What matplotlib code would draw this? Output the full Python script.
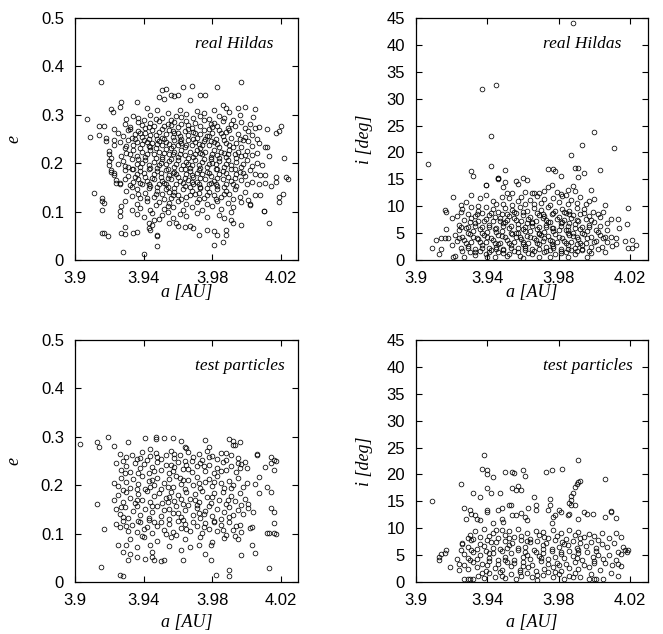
import matplotlib
matplotlib.use("Agg")
import matplotlib.pyplot as plt
from matplotlib.ticker import FixedLocator, FixedFormatter

# ---------------- data ----------------
# real Hildas: (a [AU], e)
hildas_a_e = [
    (3.907,.292),(3.909,.255),(3.915,.367),(3.914,.259),(3.911,.139),(3.914,.276),(3.917,.276),(3.918,.252),
    (3.916,.128),(3.916,.121),(3.916,.103),(3.916,.055),(3.917,.055),(3.919,.050),(3.921,.312),(3.922,.306),
    (3.927,.326),(3.926,.316),(3.920,.220),(3.921,.210),(3.920,.205),(3.920,.197),(3.921,.186),(3.923,.179),
    (3.923,.271),(3.923,.248),(3.924,.160),(3.926,.160),(3.926,.102),(3.927,.055),(3.929,.053),(3.928,.017),
    (3.929,.068),(3.934,.055),(3.936,.057),(3.936,.326),(3.942,.315),(3.940,.012),(3.948,.028),(3.948,.050),
    (3.948,.052),(3.943,.077),(3.943,.067),(3.944,.062),(3.945,.072),(3.946,.082),(3.951,.352),(3.953,.353),
    (3.949,.336),(3.952,.333),(3.956,.341),(3.958,.338),(3.960,.340),(3.963,.357),(3.968,.360),(3.967,.331),
    (3.973,.341),(3.976,.341),(3.983,.357),(3.997,.368),(3.986,.321),(3.988,.314),(3.995,.314),(3.999,.316),
    (4.005,.312),(4.005,.272),(4.012,.270),(4.019,.266),(4.020,.276),(4.017,.262),(4.022,.210),(4.023,.172),
    (4.024,.168),(4.017,.172),(4.017,.162),(4.014,.152),(4.021,.136),(4.019,.131),(4.019,.119),(4.013,.077),
    (4.010,.101),(4.008,.134),(4.002,.116),(4.002,.113),(3.997,.072),(3.992,.076),(3.991,.083),(3.988,.062),
    (3.988,.052),(3.986,.037),(3.981,.030),(3.983,.052),(3.981,.059),(3.977,.062),(3.972,.052),(3.969,.066),
    (3.967,.070),(3.964,.068),(3.959,.076),(3.960,.070),(3.955,.077),
    (3.934,.297),(3.937,.294),(3.940,.290),(3.944,.300),(3.947,.292),(3.948,.310),(3.951,.293),(3.954,.304),
    (3.956,.290),(3.959,.298),(3.961,.310),(3.962,.295),(3.965,.302),(3.969,.293),(3.971,.308),(3.973,.297),
    (3.975,.303),(3.978,.292),(3.981,.310),(3.984,.298),(3.987,.293),(3.990,.305),(3.992,.290),(3.996,.300),
    (4.004,.295),(3.930,.292),
    (3.929,.282),(3.932,.275),(3.937,.285),(3.939,.278),(3.941,.272),(3.944,.283),(3.946,.276),(3.949,.288),
    (3.951,.271),(3.954,.280),(3.958,.285),(3.960,.274),(3.962,.281),(3.965,.288),(3.968,.272),(3.970,.283),
    (3.973,.277),(3.975,.289),(3.978,.271),(3.981,.284),(3.983,.276),(3.986,.287),(3.989,.273),(3.991,.282),
    (3.993,.277),(3.997,.285),(3.999,.272),(4.002,.280),(4.007,.275),(3.956,.278),(3.966,.279),(3.979,.280),
    (3.925,.262),(3.928,.256),(3.931,.268),(3.933,.252),(3.935,.260),(3.937,.266),(3.939,.255),(3.941,.262),
    (3.943,.251),(3.945,.268),(3.947,.258),(3.949,.264),(3.951,.253),(3.953,.261),(3.955,.269),(3.957,.255),
    (3.960,.263),(3.962,.251),(3.964,.267),(3.966,.258),(3.969,.264),(3.971,.252),(3.973,.260),(3.975,.268),
    (3.977,.256),(3.980,.263),(3.982,.251),(3.984,.268),(3.986,.257),(3.988,.264),(3.991,.253),(3.995,.261),
    (3.999,.255),(4.001,.266),(4.003,.258),(4.006,.251),(3.944,.258),(3.958,.262),(3.978,.257),
    (3.918,.245),(3.923,.238),(3.926,.244),(3.929,.232),(3.931,.247),(3.934,.238),(3.936,.243),(3.938,.231),
    (3.940,.248),(3.943,.236),(3.945,.242),(3.947,.232),(3.949,.246),(3.951,.238),(3.953,.243),(3.956,.231),
    (3.958,.247),(3.960,.237),(3.962,.242),(3.964,.233),(3.966,.248),(3.968,.238),(3.970,.244),(3.973,.232),
    (3.975,.246),(3.978,.237),(3.981,.243),(3.984,.233),(3.987,.247),(3.990,.238),(3.994,.242),(3.997,.234),
    (4.001,.245),(4.003,.236),(4.007,.241),(4.011,.233),(4.012,.233),(3.955,.240),(3.972,.240),(3.942,.244),
    (3.920,.225),(3.927,.214),(3.930,.222),(3.934,.228),(3.936,.215),(3.939,.223),(3.941,.212),(3.944,.227),
    (3.946,.218),(3.949,.224),(3.951,.213),(3.953,.229),(3.955,.218),(3.958,.224),(3.960,.212),(3.962,.227),
    (3.964,.217),(3.967,.223),(3.969,.213),(3.971,.228),(3.974,.218),(3.976,.224),(3.979,.212),(3.981,.227),
    (3.983,.217),(3.985,.223),(3.988,.213),(3.990,.228),(3.993,.218),(3.995,.224),(3.997,.214),(4.000,.226),
    (4.003,.217),(4.006,.221),(4.013,.215),(3.957,.219),(3.973,.221),(3.987,.222),
    (3.925,.198),(3.928,.205),(3.931,.192),(3.933,.208),(3.936,.199),(3.938,.193),(3.941,.206),(3.943,.196),
    (3.946,.202),(3.948,.191),(3.951,.208),(3.953,.198),(3.955,.204),(3.958,.192),(3.960,.207),(3.963,.197),
    (3.965,.203),(3.967,.191),(3.970,.206),(3.972,.196),(3.974,.202),(3.977,.193),(3.979,.208),(3.982,.198),
    (3.984,.204),(3.987,.192),(3.989,.207),(3.991,.197),(3.994,.203),(3.997,.193),(4.000,.206),(4.003,.195),
    (4.006,.201),(4.009,.197),(3.950,.200),(3.966,.199),(3.980,.201),
    (3.921,.181),(3.923,.176),(3.929,.185),(3.931,.173),(3.933,.188),(3.936,.178),(3.938,.184),(3.941,.172),
    (3.943,.187),(3.946,.177),(3.948,.183),(3.950,.171),(3.953,.186),(3.955,.176),(3.958,.182),(3.960,.172),
    (3.962,.188),(3.965,.177),(3.967,.183),(3.969,.171),(3.972,.186),(3.974,.177),(3.977,.182),(3.979,.173),
    (3.982,.188),(3.984,.178),(3.986,.183),(3.989,.172),(3.991,.187),(3.994,.177),(3.996,.182),(3.999,.173),
    (4.002,.186),(4.005,.178),(4.008,.176),(4.011,.175),(3.957,.179),(3.971,.180),
    (3.924,.165),(3.926,.158),(3.929,.167),(3.932,.154),(3.934,.162),(3.937,.168),(3.939,.156),(3.942,.164),
    (3.944,.152),(3.946,.167),(3.949,.158),(3.951,.163),(3.954,.151),(3.956,.168),(3.959,.157),(3.961,.164),
    (3.964,.153),(3.966,.166),(3.969,.158),(3.971,.162),(3.973,.151),(3.976,.167),(3.978,.157),(3.981,.164),
    (3.983,.152),(3.986,.168),(3.988,.158),(3.991,.163),(3.994,.153),(3.997,.166),(4.000,.156),(4.003,.162),
    (4.007,.158),(4.011,.160),(3.952,.160),(3.968,.161),(3.979,.159),
    (3.930,.142),(3.933,.133),(3.936,.146),(3.938,.129),(3.941,.139),(3.943,.148),(3.946,.131),(3.948,.142),
    (3.951,.136),(3.953,.147),(3.956,.128),(3.958,.141),(3.960,.134),(3.963,.146),(3.965,.130),(3.968,.142),
    (3.970,.137),(3.973,.148),(3.975,.129),(3.978,.140),(3.981,.135),(3.983,.146),(3.985,.131),(3.988,.143),
    (3.990,.137),(3.993,.147),(3.996,.131),(3.999,.140),(4.005,.135),(3.955,.140),(3.972,.139),
    (3.917,.118),(3.927,.111),(3.929,.121),(3.933,.104),(3.936,.116),(3.938,.108),(3.942,.122),(3.944,.103),
    (3.947,.114),(3.949,.119),(3.952,.106),(3.955,.117),(3.957,.110),(3.960,.122),(3.963,.104),(3.965,.115),
    (3.968,.109),(3.971,.120),(3.974,.103),(3.977,.116),(3.980,.111),(3.983,.121),(3.985,.105),(3.989,.117),
    (3.992,.110),(3.997,.120),(4.001,.124),(3.954,.112),
    (3.926,.090),(3.936,.096),(3.940,.088),(3.945,.097),(3.949,.085),(3.951,.093),(3.954,.099),(3.957,.087),
    (3.961,.095),(3.965,.091),(3.971,.098),(3.977,.088),(3.984,.094),(3.987,.086),(3.991,.099),(4.010,.101),
    (3.932,.270),(3.938,.262),(3.943,.274),(3.948,.250),(3.952,.277),(3.957,.266),(3.961,.256),(3.966,.271),
    (3.970,.262),(3.976,.251),(3.980,.274),(3.985,.262),(3.990,.268),(3.996,.249),
    (3.930,.236),(3.935,.249),(3.939,.240),(3.944,.233),(3.948,.240),(3.952,.250),(3.957,.235),(3.961,.245),
    (3.965,.238),(3.969,.249),(3.974,.237),(3.979,.246),(3.983,.239),(3.988,.242),(3.992,.233),(3.998,.247),
    (3.932,.218),(3.937,.209),(3.942,.220),(3.947,.211),(3.952,.221),(3.956,.209),(3.961,.218),(3.966,.210),
    (3.970,.220),(3.975,.209),(3.980,.219),(3.984,.210),(3.989,.219),(3.994,.210),(3.999,.217),
    (3.929,.195),(3.934,.187),(3.939,.200),(3.944,.190),(3.949,.196),(3.954,.189),(3.959,.199),(3.964,.188),
    (3.968,.197),(3.973,.190),(3.978,.199),(3.983,.189),(3.988,.199),(3.993,.188),(3.998,.199),
    (3.935,.171),(3.940,.180),(3.945,.170),(3.950,.179),(3.954,.169),(3.959,.178),(3.964,.169),(3.968,.176),
    (3.973,.169),(3.978,.179),(3.983,.170),(3.988,.179),(3.993,.169),(3.998,.179),
    (3.933,.150),(3.938,.160),(3.943,.157),(3.948,.150),(3.953,.156),(3.958,.149),(3.963,.160),(3.967,.150),
    (3.972,.157),(3.977,.149),(3.982,.158),(3.987,.150),(3.992,.157),
    (3.937,.137),(3.942,.128),(3.947,.137),(3.952,.126),(3.957,.135),(3.962,.126),(3.967,.135),(3.972,.126),
    (3.977,.134),(3.982,.126),(3.987,.136),(3.992,.127),
]

# real Hildas: (a [AU], i [deg])
hildas_a_i = [
    (3.988,44.1),(3.937,31.8),(3.945,32.6),(3.942,23.0),(4.000,23.8),(3.907,17.8),(3.993,21.3),(3.987,19.6),
    (4.011,20.8),(4.003,16.8),(3.942,17.5),(3.931,16.6),(3.932,15.7),(3.950,16.8),(3.974,17.0),(3.977,16.9),
    (3.978,16.6),(3.989,17.1),(3.991,17.1),(3.994,16.1),(3.991,15.5),(3.981,15.6),(3.921,11.8),(3.931,12.1),
    (3.939,13.9),(3.946,15.3),(3.946,15.0),(3.962,14.9),(4.019,9.7),(4.018,6.7),(4.013,7.6),(4.014,5.9),
    (4.009,7.6),(4.005,8.9),(4.000,11.3),(3.998,13.0),(4.021,3.8),(4.023,2.8),(4.017,3.6),(4.019,2.2),
    (4.021,2.2),(3.909,2.2),(3.911,3.7),(3.913,1.1),(3.914,2.0),(3.914,4.0),(3.916,4.0),(3.918,4.0),
    (3.916,9.3),(3.917,9.0),(3.917,5.7),(3.921,0.5),(3.922,0.7),(3.927,0.5),
    (3.939,13.9),(3.946,15.3),(3.949,13.5),(3.950,14.5),(3.951,12.5),(3.954,12.5),(3.956,14.6),(3.957,14.2),
    (3.960,15.2),(3.961,12.7),(3.965,12.5),(3.966,12.4),(3.969,12.5),(3.972,12.9),(3.974,13.6),(3.976,14.0),
    (3.979,12.6),(3.981,12.3),(3.984,12.0),(3.985,13.1),(3.988,13.7),(3.989,12.8),
    (3.925,10.2),(3.928,10.7),(3.935,10.0),(3.936,11.5),(3.939,12.0),(3.943,11.0),(3.945,10.5),(3.948,11.8),
    (3.949,10.5),(3.952,11.5),(3.954,10.2),(3.957,11.0),(3.959,11.8),(3.961,10.5),(3.964,11.2),(3.966,10.4),
    (3.968,11.9),(3.970,10.6),(3.972,11.4),(3.975,10.3),(3.977,11.6),(3.980,10.8),(3.982,11.9),(3.985,10.4),
    (3.987,11.2),(3.990,10.6),(3.992,11.7),(3.995,10.5),(3.997,11.0),(4.006,10.2),
    (3.923,8.2),(3.926,9.4),(3.929,8.5),(3.931,9.8),(3.933,8.1),(3.935,9.2),(3.937,8.7),(3.939,9.9),
    (3.941,8.3),(3.943,9.5),(3.944,8.0),(3.946,9.0),(3.948,8.6),(3.950,9.7),(3.952,8.2),(3.954,9.3),
    (3.956,8.8),(3.958,9.9),(3.960,8.4),(3.962,9.1),(3.964,8.0),(3.966,9.6),(3.968,8.7),(3.970,9.3),
    (3.972,8.2),(3.974,9.8),(3.976,8.5),(3.978,9.2),(3.980,8.0),(3.982,9.5),(3.984,8.8),(3.986,9.1),
    (3.988,8.3),(3.990,9.7),(3.992,8.6),(3.994,9.4),(3.997,8.1),(3.999,9.0),(4.002,8.5),(3.955,9.0),
    (3.971,8.6),(3.983,9.0),
    (3.920,7.8),(3.924,6.5),(3.927,7.5),(3.929,6.2),(3.931,7.9),(3.933,6.8),(3.935,7.3),(3.937,6.1),
    (3.939,7.7),(3.941,6.6),(3.943,7.2),(3.945,6.0),(3.947,7.8),(3.949,6.9),(3.951,7.4),(3.953,6.3),
    (3.955,7.9),(3.957,6.7),(3.959,7.2),(3.961,6.1),(3.963,7.6),(3.965,6.8),(3.967,7.3),(3.969,6.2),
    (3.971,7.8),(3.973,6.6),(3.975,7.1),(3.977,6.0),(3.979,7.7),(3.981,6.9),(3.983,7.4),(3.985,6.4),
    (3.987,7.9),(3.989,6.7),(3.991,7.2),(3.993,6.1),(3.995,7.6),(3.997,6.5),(4.000,7.0),(4.003,6.3),
    (4.007,6.8),(3.950,7.0),(3.962,6.9),(3.974,7.0),(3.986,6.8),
    (3.922,4.6),(3.924,5.5),(3.926,4.2),(3.928,5.9),(3.930,4.8),(3.932,5.3),(3.934,4.1),(3.936,5.7),
    (3.938,4.6),(3.940,5.2),(3.942,4.0),(3.944,5.8),(3.946,4.7),(3.948,5.4),(3.950,4.3),(3.952,5.9),
    (3.954,4.9),(3.956,5.1),(3.958,4.2),(3.960,5.7),(3.962,4.5),(3.964,5.3),(3.966,4.0),(3.968,5.8),
    (3.970,4.7),(3.972,5.2),(3.974,4.4),(3.976,5.9),(3.978,4.8),(3.980,5.5),(3.982,4.1),(3.984,5.6),
    (3.986,4.6),(3.988,5.1),(3.990,4.3),(3.992,5.8),(3.994,4.9),(3.996,5.3),(3.998,4.2),(4.001,5.6),
    (4.003,4.6),(4.006,4.2),(4.009,4.3),(4.012,4.1),(3.957,5.0),(3.969,4.9),(3.985,5.0),
    (3.920,2.8),(3.923,3.5),(3.925,2.3),(3.927,3.8),(3.929,2.6),(3.931,3.3),(3.933,2.1),(3.935,3.9),
    (3.937,2.8),(3.939,3.4),(3.941,2.2),(3.943,3.7),(3.945,2.5),(3.947,3.2),(3.949,2.0),(3.951,3.8),
    (3.953,2.7),(3.955,3.4),(3.957,2.3),(3.959,3.9),(3.961,2.6),(3.963,3.1),(3.965,2.1),(3.967,3.7),
    (3.969,2.9),(3.971,3.5),(3.973,2.4),(3.975,3.8),(3.977,2.6),(3.979,3.3),(3.981,2.0),(3.983,3.6),
    (3.985,2.8),(3.987,3.4),(3.989,2.2),(3.991,3.9),(3.993,2.7),(3.995,3.2),(3.998,2.4),(4.001,3.6),
    (4.004,2.5),(4.007,3.3),(4.010,2.6),(3.946,3.0),(3.960,3.0),(3.976,3.0),(3.990,3.0),
    (3.930,1.5),(3.933,0.9),(3.936,1.7),(3.939,1.2),(3.942,1.9),(3.944,0.6),(3.946,1.4),(3.949,1.8),
    (3.952,1.1),(3.955,1.6),(3.958,0.8),(3.961,1.9),(3.963,1.3),(3.966,1.7),(3.969,0.5),(3.972,1.5),
    (3.975,1.9),(3.978,1.2),(3.981,1.7),(3.984,1.4),(3.987,1.9),(3.990,1.6),(3.993,1.8),(3.998,1.3),
    (4.006,1.5),
    (3.925,8.9),(3.930,7.0),(3.934,8.5),(3.938,7.2),(3.942,8.8),(3.947,7.3),(3.951,8.6),(3.956,7.4),
    (3.960,8.9),(3.965,7.1),(3.969,8.4),(3.973,7.5),(3.977,8.8),(3.982,7.0),(3.986,8.5),(3.990,7.5),
    (3.994,8.8),(3.998,7.4),(4.003,8.0),
    (3.925,6.2),(3.929,5.1),(3.933,6.4),(3.937,5.0),(3.941,6.2),(3.945,5.2),(3.949,6.4),(3.953,5.0),
    (3.957,6.0),(3.961,5.3),(3.965,6.3),(3.969,5.1),(3.973,6.1),(3.977,5.3),(3.981,6.3),(3.985,5.6),
    (3.989,6.0),(3.993,5.1),(3.997,6.1),(4.002,5.2),(4.007,5.5),
    (3.924,4.0),(3.928,3.1),(3.932,4.3),(3.936,3.3),(3.940,4.2),(3.944,3.2),(3.948,4.4),(3.952,3.2),
    (3.956,4.2),(3.960,3.4),(3.964,4.3),(3.968,3.2),(3.972,4.1),(3.976,3.5),(3.980,4.2),(3.984,3.1),
    (3.988,4.4),(3.992,3.2),(3.996,4.1),(4.000,3.3),(4.005,4.0),(4.012,3.0),
    (3.926,1.7),(3.929,2.2),(3.933,1.5),(3.937,2.3),(3.941,1.4),(3.945,2.1),(3.949,1.3),(3.953,2.2),
    (3.957,1.5),(3.961,2.3),(3.965,1.2),(3.969,2.0),(3.973,1.6),(3.977,2.2),(3.981,1.3),(3.985,2.0),
    (3.989,1.2),(3.993,2.1),(3.997,1.6),(4.002,2.0),
    (3.940,0.5),(3.951,0.7),(3.960,0.4),(3.975,0.6),(3.985,0.5),(3.996,0.6),
]

# test particles: (a [AU], e)
particles_a_e = [
    (3.903,.286),(3.913,.290),(3.914,.279),(3.919,.300),(3.923,.282),(3.913,.161),(3.917,.109),(3.915,.032),
    (3.926,.014),(3.928,.012),(3.925,.077),(3.930,.077),(3.928,.062),(3.931,.046),(3.932,.057),(3.936,.072),
    (3.936,.052),(3.941,.048),(3.944,.076),(3.945,.062),(3.945,.052),(3.946,.045),(3.950,.043),(3.952,.045),
    (3.955,.074),(3.962,.066),(3.963,.046),(3.967,.072),(3.972,.076),(3.976,.057),(3.979,.046),(3.979,.076),
    (3.982,.014),(3.990,.024),(3.990,.012),(3.995,.088),(3.997,.055),(4.003,.076),(4.005,.059),(4.002,.112),
    (4.013,.028),(4.012,.102),(4.013,.102),(4.016,.102),(4.017,.099),(4.016,.121),(4.016,.145),(4.014,.153),
    (4.014,.186),(4.012,.197),(4.016,.231),(4.016,.252),(4.017,.250),(4.014,.259),(4.014,.245),(4.006,.265),
    (4.006,.262),(4.011,.238),(4.007,.217),(4.005,.202),(4.007,.183),(4.004,.145),(4.003,.114),
    (3.941,.298),(3.947,.300),(3.947,.295),(3.952,.298),(3.957,.297),(3.962,.291),(3.964,.279),(3.976,.293),
    (3.978,.279),(3.990,.295),(3.992,.291),(3.993,.283),(3.996,.290),(3.992,.283),(3.931,.290),
    (3.926,.265),(3.930,.258),(3.933,.262),(3.936,.255),(3.939,.268),(3.942,.252),(3.944,.260),(3.947,.267),
    (3.950,.254),(3.953,.262),(3.956,.270),(3.958,.256),(3.961,.263),(3.964,.251),(3.966,.268),(3.969,.258),
    (3.972,.265),(3.974,.253),(3.977,.270),(3.980,.260),(3.983,.255),(3.985,.267),(3.988,.252),(3.991,.262),
    (3.995,.256),(3.999,.248),(3.944,.275),(3.965,.276),
    (3.924,.245),(3.927,.232),(3.930,.240),(3.932,.228),(3.935,.246),(3.938,.236),(3.940,.243),(3.943,.226),
    (3.945,.238),(3.948,.247),(3.950,.231),(3.953,.241),(3.955,.225),(3.958,.237),(3.960,.248),(3.963,.233),
    (3.965,.242),(3.968,.227),(3.971,.239),(3.973,.246),(3.976,.230),(3.978,.241),(3.981,.225),(3.983,.236),
    (3.986,.247),(3.988,.232),(3.991,.240),(3.994,.228),(3.997,.244),(4.000,.235),(3.957,.229),
    (3.923,.205),(3.925,.198),(3.927,.215),(3.930,.207),(3.932,.195),(3.934,.212),(3.937,.203),(3.939,.218),
    (3.941,.193),(3.943,.208),(3.946,.200),(3.948,.215),(3.950,.192),(3.952,.205),(3.955,.212),(3.957,.197),
    (3.959,.218),(3.962,.203),(3.964,.193),(3.966,.210),(3.969,.200),(3.971,.216),(3.973,.195),(3.976,.207),
    (3.978,.213),(3.980,.198),(3.983,.219),(3.985,.204),(3.987,.194),(3.990,.209),(3.992,.201),(3.995,.215),
    (3.998,.196),(4.000,.205),(3.944,.197),(3.961,.214),
    (3.923,.170),(3.925,.180),(3.928,.165),(3.930,.186),(3.932,.174),(3.935,.163),(3.937,.182),(3.939,.170),
    (3.942,.188),(3.944,.166),(3.946,.177),(3.949,.184),(3.951,.163),(3.953,.174),(3.956,.186),(3.958,.168),
    (3.960,.179),(3.963,.162),(3.965,.185),(3.967,.172),(3.970,.181),(3.972,.166),(3.974,.188),(3.977,.175),
    (3.979,.164),(3.981,.183),(3.984,.170),(3.986,.186),(3.988,.162),(3.991,.177),(3.993,.168),(3.996,.184),
    (3.999,.172),(4.001,.162),(3.955,.175),(3.970,.170),
    (3.924,.150),(3.926,.140),(3.929,.155),(3.931,.133),(3.934,.147),(3.936,.158),(3.938,.138),(3.941,.151),
    (3.943,.132),(3.945,.145),(3.948,.157),(3.950,.137),(3.952,.149),(3.955,.131),(3.957,.143),(3.959,.156),
    (3.962,.135),(3.964,.148),(3.966,.159),(3.969,.139),(3.971,.152),(3.973,.133),(3.976,.146),(3.978,.157),
    (3.980,.136),(3.983,.150),(3.985,.131),(3.987,.144),(3.990,.155),(3.992,.138),(3.995,.149),(3.998,.141),
    (4.001,.153),(3.960,.142),(3.975,.140),
    (3.924,.120),(3.926,.113),(3.928,.126),(3.931,.106),(3.933,.118),(3.936,.104),(3.938,.123),(3.940,.110),
    (3.943,.128),(3.945,.102),(3.948,.116),(3.950,.124),(3.952,.108),(3.955,.119),(3.957,.103),(3.960,.127),
    (3.962,.112),(3.964,.120),(3.967,.106),(3.969,.124),(3.971,.115),(3.974,.102),(3.976,.121),(3.978,.110),
    (3.981,.127),(3.983,.105),(3.985,.117),(3.988,.098),(3.990,.123),(3.992,.107),(3.994,.115),(3.997,.104),
    (3.959,.098),(3.940,.093),
    (3.932,.089),(3.939,.095),(3.948,.085),(3.956,.092),(3.964,.088),(3.973,.094),(3.980,.083),(3.987,.090),
    (3.993,.095),
    (3.928,.250),(3.938,.257),(3.948,.258),(3.958,.265),(3.968,.250),(3.978,.258),(3.988,.266),(3.995,.245),
    (3.929,.225),(3.937,.226),(3.946,.230),(3.956,.242),(3.966,.233),(3.975,.240),(3.985,.230),(3.996,.236),
    (3.928,.190),(3.936,.192),(3.945,.210),(3.954,.197),(3.963,.210),(3.972,.205),(3.981,.207),(3.991,.195),
    (3.927,.155),(3.936,.170),(3.945,.158),(3.954,.165),(3.962,.172),(3.971,.160),(3.980,.175),(3.989,.170),
    (3.997,.160),
    (3.928,.135),(3.937,.127),(3.946,.125),(3.955,.150),(3.963,.128),(3.972,.142),(3.981,.125),(3.990,.135),
    (3.930,.115),(3.942,.113),(3.953,.100),(3.965,.110),(3.975,.113),(3.986,.108),(3.996,.118),
]

# test particles: (a [AU], i [deg])
particles_a_i = [
    (3.909,15.0),(3.913,4.0),(3.913,4.7),(3.914,5.2),(3.916,5.4),(3.917,5.9),(3.919,2.8),(3.925,18.2),
    (3.927,13.8),(3.928,11.7),(3.930,13.3),(3.931,12.7),(3.933,12.4),(3.934,11.8),(3.936,11.5),(3.932,16.6),
    (3.936,15.8),(3.938,23.7),(3.937,21.1),(3.940,20.9),(3.940,20.0),(3.943,19.6),(3.940,17.4),(3.942,16.6),
    (3.947,16.6),(3.940,13.3),(3.940,13.0),(3.943,11.0),(3.945,9.6),(3.946,13.3),(3.948,13.7),(3.948,11.8),
    (3.949,11.2),(3.950,20.5),(3.952,14.3),(3.953,14.3),(3.954,12.4),(3.956,12.4),(3.954,20.4),(3.955,20.2),
    (3.954,17.4),(3.956,17.2),(3.957,17.8),(3.959,17.2),(3.960,20.8),(3.961,19.7),(3.959,12.8),(3.961,12.1),
    (3.962,11.5),(3.963,13.7),(3.966,15.8),(3.967,14.3),(3.967,13.3),(3.973,20.5),(3.976,20.8),(3.974,13.3),
    (3.975,14.3),(3.975,15.5),(3.976,10.9),(3.977,12.0),(3.978,12.4),(3.980,13.3),(3.981,13.0),(3.982,21.0),
    (3.985,12.4),(3.986,12.7),(3.986,14.6),(3.987,15.2),(3.987,16.0),(3.987,14.3),(3.989,14.3),(3.988,16.6),
    (3.989,17.7),(3.990,18.2),(3.991,18.6),(3.992,18.8),(3.991,22.7),(3.991,11.8),(3.994,13.0),(3.996,12.7),
    (3.999,12.7),(4.006,19.1),(4.006,12.1),(4.009,13.2),(4.009,13.0),(4.012,11.9),(4.012,9.2),(4.015,8.4),
    (4.016,6.5),(4.017,5.9),(4.018,5.6),(4.019,5.9),(4.013,5.6),(4.015,5.2),(4.012,4.0),(4.013,3.4),
    (4.010,3.1),(4.015,3.0),(4.013,1.1),(4.009,1.6),(4.005,0.6),(4.000,0.6),(4.001,0.6),(3.997,0.6),
    (3.927,0.6),(3.929,0.6),(3.930,0.6),(3.932,0.6),(3.924,2.2),(3.924,3.4),(3.923,4.3),(3.925,5.9),
    (3.926,7.1),(3.929,8.1),
    (3.930,8.8),(3.933,9.5),(3.936,8.3),(3.938,9.8),(3.941,8.6),(3.943,9.2),(3.946,8.1),(3.948,9.6),
    (3.950,8.8),(3.952,9.4),(3.955,8.3),(3.957,9.9),(3.959,8.6),(3.962,9.1),(3.964,8.0),(3.967,9.5),
    (3.969,8.7),(3.971,9.3),(3.974,8.2),(3.977,9.7),(3.979,8.5),(3.981,9.1),(3.984,8.0),(3.986,9.6),
    (3.989,8.8),(3.991,9.3),(3.994,8.4),(3.997,9.0),(4.000,8.6),(4.004,9.2),(4.008,8.2),
    (3.926,7.3),(3.929,6.5),(3.931,7.8),(3.934,6.2),(3.936,7.1),(3.938,6.7),(3.940,7.9),(3.943,6.4),
    (3.945,7.4),(3.947,6.1),(3.950,7.7),(3.952,6.8),(3.954,7.2),(3.957,6.3),(3.959,7.9),(3.961,6.6),
    (3.964,7.4),(3.966,6.0),(3.968,7.6),(3.971,6.9),(3.973,7.3),(3.976,6.2),(3.978,7.8),(3.980,6.5),
    (3.983,7.1),(3.985,6.8),(3.988,7.6),(3.990,6.3),(3.992,7.2),(3.995,6.7),(3.998,7.5),(4.001,6.4),
    (4.004,7.0),(4.007,6.6),(4.011,7.2),
    (3.927,5.2),(3.929,4.5),(3.932,5.6),(3.934,4.2),(3.936,5.0),(3.939,5.8),(3.941,4.4),(3.943,5.3),
    (3.946,4.1),(3.948,5.7),(3.950,4.7),(3.953,5.4),(3.955,4.0),(3.957,5.9),(3.960,4.6),(3.962,5.1),
    (3.964,4.3),(3.967,5.6),(3.969,4.9),(3.971,5.3),(3.974,4.2),(3.976,5.8),(3.978,4.7),(3.981,5.2),
    (3.983,4.4),(3.986,5.7),(3.988,4.8),(3.991,5.4),(3.993,4.1),(3.996,5.5),(3.999,4.6),(4.002,5.0),
    (4.005,4.3),(4.008,5.1),
    (3.927,3.2),(3.929,2.4),(3.932,3.7),(3.934,2.8),(3.937,3.4),(3.939,2.1),(3.941,3.9),(3.944,2.6),
    (3.946,3.3),(3.948,2.2),(3.951,3.8),(3.953,2.9),(3.955,3.5),(3.958,2.3),(3.960,3.7),(3.963,2.7),
    (3.965,3.2),(3.967,2.0),(3.970,3.9),(3.972,2.5),(3.974,3.4),(3.977,2.8),(3.979,3.6),(3.981,2.1),
    (3.984,3.3),(3.986,2.6),(3.989,3.8),(3.991,2.4),(3.994,3.1),(3.997,2.7),(4.000,3.5),(4.003,2.2),
    (4.006,3.6),
    (3.935,1.2),(3.938,0.8),(3.941,1.6),(3.944,1.0),(3.947,1.8),(3.950,0.7),(3.953,1.4),(3.956,0.5),
    (3.959,1.1),(3.962,1.7),(3.965,0.9),(3.968,0.4),(3.971,1.3),(3.974,1.8),(3.977,0.9),(3.980,1.5),
    (3.983,0.6),(3.986,1.2),(3.989,1.7),(3.992,0.9),
    (3.932,8.0),(3.942,7.5),(3.952,8.2),(3.962,7.7),(3.972,8.3),(3.982,7.4),(3.992,8.1),(4.002,7.8),
    (3.931,6.0),(3.941,5.4),(3.951,6.3),(3.961,5.6),(3.971,6.1),(3.981,5.6),(3.991,6.0),(4.001,5.7),
    (3.930,4.0),(3.940,3.2),(3.950,4.1),(3.960,3.0),(3.970,4.5),(3.980,3.1),(3.990,4.4),(4.000,3.9),
    (3.937,1.6),(3.948,1.2),(3.958,1.8),(3.968,1.3),(3.978,1.9),(3.988,1.0),(3.998,1.4),
]

x_ticks = [3.9, 3.94, 3.98, 4.02]
x_tick_labels = ["3.9", "3.94", "3.98", "4.02"]
e_ticks = [0, 0.1, 0.2, 0.3, 0.4, 0.5]
e_tick_labels = ["0", "0.1", "0.2", "0.3", "0.4", "0.5"]
i_ticks = [0, 5, 10, 15, 20, 25, 30, 35, 40, 45]
i_tick_labels = ["0", "5", "10", "15", "20", "25", "30", "35", "40", "45"]
panel_titles = ["real Hildas", "real Hildas", "test particles", "test particles"]

# ---------------- figure ----------------
W, H = 663, 634
fig = plt.figure(figsize=(W / 100, H / 100), dpi=100)

def px_axes(left, top, right, bottom):
    return fig.add_axes([left / W, 1 - bottom / H, (right - left) / W, (bottom - top) / H])

axes = [
    px_axes(75, 18, 298, 260),
    px_axes(416, 18, 648, 260),
    px_axes(75, 340, 298, 582),
    px_axes(416, 340, 648, 582),
]
datasets = [hildas_a_e, hildas_a_i, particles_a_e, particles_a_i]

tick_font = {"family": "Liberation Sans", "size": 12}
serif_it = {"family": "Liberation Serif", "style": "italic"}

for k, (ax, data) in enumerate(zip(axes, datasets)):
    xs = [p[0] for p in data]
    ys = [p[1] for p in data]
    ax.plot(xs, ys, linestyle="none", marker="o", markersize=3.4,
            markerfacecolor="none", markeredgecolor="black", markeredgewidth=0.55)
    ax.set_xlim(3.9, 4.03)
    ax.xaxis.set_major_locator(FixedLocator(x_ticks))
    ax.xaxis.set_major_formatter(FixedFormatter(x_tick_labels))
    if k % 2 == 0:
        ax.set_ylim(0, 0.5)
        ax.yaxis.set_major_locator(FixedLocator(e_ticks))
        ax.yaxis.set_major_formatter(FixedFormatter(e_tick_labels))
    else:
        ax.set_ylim(0, 45)
        ax.yaxis.set_major_locator(FixedLocator(i_ticks))
        ax.yaxis.set_major_formatter(FixedFormatter(i_tick_labels))
    ax.tick_params(direction="in", length=4.5, width=0.8, top=True, right=True, pad=8)
    for lab in ax.get_xticklabels() + ax.get_yticklabels():
        lab.set_fontfamily(tick_font["family"])
        lab.set_fontsize(tick_font["size"])
    for sp in ax.spines.values():
        sp.set_linewidth(0.9)
    ax.text(0.54 if k % 2 == 0 else 0.547, 0.893, panel_titles[k], transform=ax.transAxes,
            ha="left", va="center", fontsize=12.5, **serif_it)

# axis labels (placed in figure pixels)
for cx, cy in [(186.5, 292), (532, 292), (186.5, 623), (532, 623)]:
    fig.text(cx / W, 1 - cy / H, "a [AU]", ha="center", va="center", fontsize=13, **serif_it)
for cx, cy in [(14, 139), (14, 461)]:
    fig.text(cx / W, 1 - cy / H, "e", ha="center", va="center", rotation=90, fontsize=13, **serif_it)
for cx, cy in [(364, 139), (364, 461)]:
    fig.text(cx / W, 1 - cy / H, "i [deg]", ha="center", va="center", rotation=90, fontsize=13, **serif_it)

fig.savefig("out.png", dpi=100)
